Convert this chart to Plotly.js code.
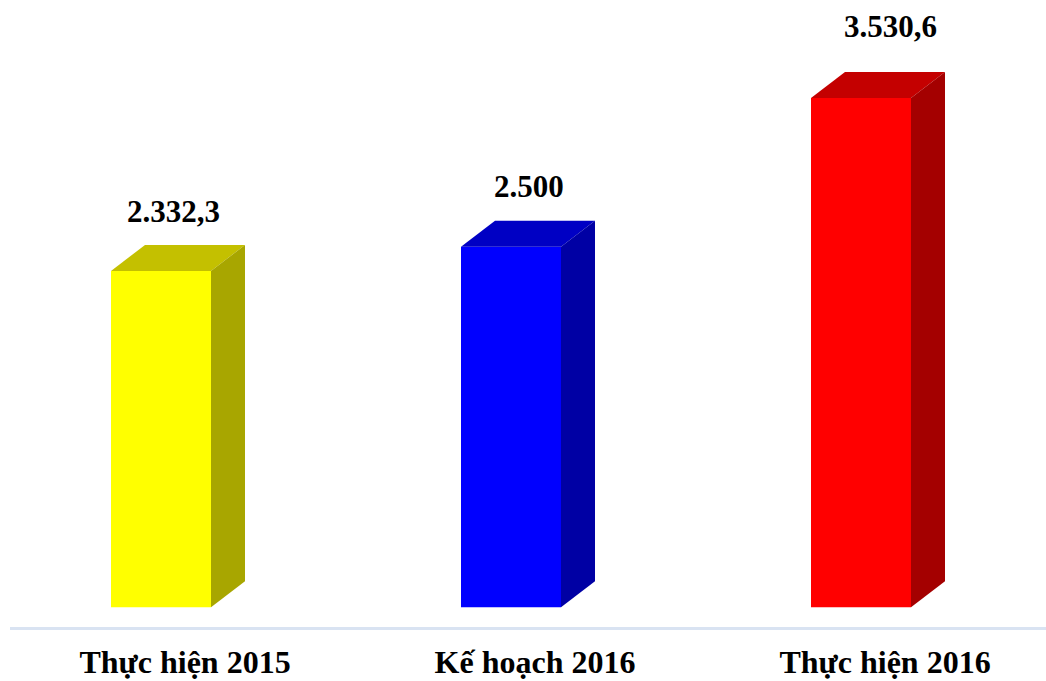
<!DOCTYPE html>
<html>
<head>
<meta charset="utf-8">
<script src="https://cdn.plot.ly/plotly-3.0.1.min.js"></script>
<style>html,body{margin:0;padding:0;background:#fff;}#chart{width:1046px;height:681px;}</style>
</head>
<body>
<div id="chart"></div>
<script>
// Data
const categories = ["Thực hiện 2015", "Kế hoạch 2016", "Thực hiện 2016"];
const values = [2332.3, 2500, 3530.6];
const valueLabels = ["2.332,3", "2.500", "3.530,6"];

// Styles
const frontColors = ["#ffff00", "#0000ff", "#ff0000"];
const topColors = ["#c4c000", "#0000c4", "#c40000"];
const sideColors = ["#a8a600", "#0000a4", "#a40000"];
const labelXShift = [12, 18, 29];
const labelYShift = [14, 15, 26];

const pxPerX = 350;          // pixels per category unit
const pxPerY = 0.14422;      // pixels per value unit
const barW = 100 / pxPerX;   // bar width in x units
const dx = 34 / pxPerX;      // depth offset x
const dy = 26 / pxPerY;      // depth offset y (value units)

const xs = categories.map((c, i) => i);

const traces = [];
traces.push({
  type: "bar", x: xs, y: values, width: barW,
  marker: {color: frontColors, line: {width: 0}},
  hoverinfo: "skip", showlegend: false
});
xs.forEach((x, i) => {
  const v = values[i];
  const l = x - barW / 2, r = x + barW / 2;
  traces.push({
    type: "scatter", mode: "lines", fill: "toself",
    x: [l, l + dx, r + dx, r, l],
    y: [v, v + dy, v + dy, v, v],
    fillcolor: topColors[i], line: {width: 0, color: topColors[i]},
    hoverinfo: "skip", showlegend: false
  });
  traces.push({
    type: "scatter", mode: "lines", fill: "toself",
    x: [r, r + dx, r + dx, r, r],
    y: [0, dy, v + dy, v, 0],
    fillcolor: sideColors[i], line: {width: 0, color: sideColors[i]},
    hoverinfo: "skip", showlegend: false
  });
});

const marginL = 10, marginB = 54, W = 1046, H = 681;
const plotW = W - marginL, plotH = H - marginB;
const zeroPxX = 161 - marginL, zeroPxY = 607.3;
const xMin = -zeroPxX / pxPerX, xMax = xMin + plotW / pxPerX;
const yMax = zeroPxY / pxPerY, yMin = -(plotH - zeroPxY) / pxPerY;

const tickOffset = 24 / pxPerX;
const font = "'Liberation Serif', 'Times New Roman', serif";

const annotations = xs.map((x, i) => ({
  x: x, y: values[i] + dy, xref: "x", yref: "y",
  text: valueLabels[i], showarrow: false,
  xanchor: "center", yanchor: "bottom",
  xshift: labelXShift[i], yshift: labelYShift[i],
  font: {family: font, size: 31, color: "#000", weight: "bold"}
}));

const layout = {
  width: W, height: H,
  margin: {l: marginL, r: 0, t: 0, b: marginB, pad: 0},
  paper_bgcolor: "#fff", plot_bgcolor: "#fff",
  showlegend: false,
  xaxis: {
    range: [xMin, xMax], showgrid: false, zeroline: false,
    showline: true, linecolor: "#d9e3f2", linewidth: 3,
    tickvals: xs.map(x => x + tickOffset), ticktext: categories,
    ticks: "", ticklabelstandoff: 5,
    tickfont: {family: font, size: 32, color: "#000", weight: "bold"},
    fixedrange: true
  },
  yaxis: {
    range: [yMin, yMax], showgrid: false, zeroline: false,
    showline: false, showticklabels: false, ticks: "", fixedrange: true
  },
  annotations: annotations
};

Plotly.newPlot("chart", traces, layout, {displayModeBar: false, staticPlot: true});
</script>
</body>
</html>
